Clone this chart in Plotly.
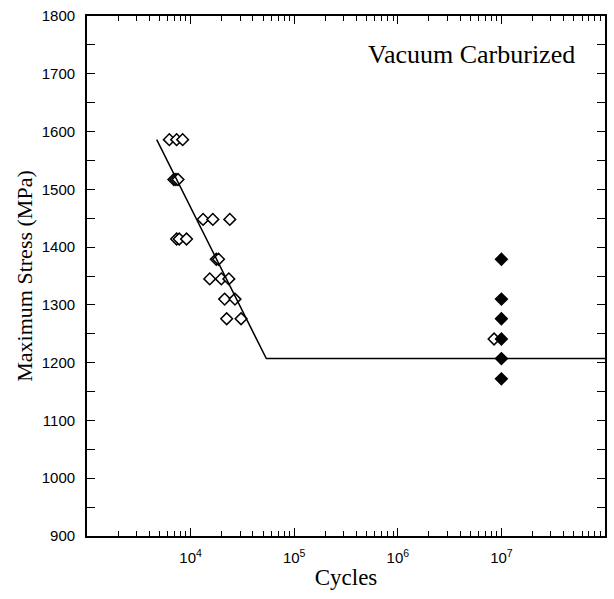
import plotly.graph_objects as go

# ---- data ----
open_cycles = [6230, 7330, 8380, 6900, 7220, 7560, 13200, 16400, 23900,
               7330, 7770, 9140, 17700, 18600, 15300, 19800, 23400,
               21300, 26800, 22300, 30700, 8500000]
open_stress = [1586, 1586, 1586, 1517, 1517, 1517, 1448, 1448, 1448,
               1414, 1414, 1414, 1379, 1379, 1345, 1345, 1345,
               1310, 1310, 1276, 1276, 1241]
runout_cycles = [1e7, 1e7, 1e7, 1e7, 1e7, 1e7]
runout_stress = [1379, 1310, 1276, 1241, 1207, 1172]
fit_cycles = [4710, 53800, 1e8]
fit_stress = [1586, 1207, 1207]

x_tickvals = [1e4, 1e5, 1e6, 1e7]
x_ticktext = ["10<sup>4</sup>", "10<sup>5</sup>", "10<sup>6</sup>", "10<sup>7</sup>"]
y_tickvals = [900, 1000, 1100, 1200, 1300, 1400, 1500, 1600, 1700, 1800]

serif = "Liberation Serif, Times New Roman, serif"
sans = "Liberation Sans, Arial, sans-serif"

fig = go.Figure()
fig.add_trace(go.Scatter(
    x=open_cycles, y=open_stress, mode="markers",
    marker=dict(symbol="diamond", size=9, color="white",
                line=dict(color="black", width=1.5)),
    showlegend=False))
fig.add_trace(go.Scatter(
    x=fit_cycles, y=fit_stress, mode="lines",
    line=dict(color="black", width=1.5), showlegend=False))
fig.add_trace(go.Scatter(
    x=runout_cycles, y=runout_stress, mode="markers",
    marker=dict(symbol="diamond", size=9, color="black",
                line=dict(color="black", width=1.5)),
    showlegend=False))

fig.add_annotation(
    text="Vacuum Carburized", xref="paper", yref="paper",
    x=0.945, y=0.926, xanchor="right", yanchor="middle",
    showarrow=False, font=dict(family=serif, size=26, color="black"))

fig.update_layout(
    width=614, height=599,
    margin=dict(l=87, r=7, t=15, b=63),
    plot_bgcolor="white", paper_bgcolor="white",
    font=dict(family=sans, color="black"),
)
fig.update_xaxes(
    type="log", range=[3, 8],
    tickvals=x_tickvals, ticktext=x_ticktext,
    ticks="inside", ticklen=8, tickwidth=1.2, tickcolor="black",
    minor=dict(ticks="inside", ticklen=5, tickwidth=1.2, tickcolor="black", dtick="D1"),
    showline=True, linecolor="black", linewidth=1.8, mirror="ticks",
    showgrid=False, zeroline=False,
    tickfont=dict(family=sans, size=15),
    ticklabelstandoff=7,
    title=dict(text="Cycles", font=dict(family=serif, size=23), standoff=4),
)
fig.update_yaxes(
    range=[900, 1800], tickvals=y_tickvals,
    ticks="inside", ticklen=8, tickwidth=1.2, tickcolor="black",
    minor=dict(ticks="inside", ticklen=8, tickwidth=1.2, tickcolor="black", dtick=50),
    showline=True, linecolor="black", linewidth=1.8, mirror="ticks",
    showgrid=False, zeroline=False,
    tickfont=dict(family=sans, size=15),
    ticklabelstandoff=7,
    title=dict(text="Maximum Stress (MPa)", font=dict(family=serif, size=22), standoff=3),
)

fig.write_html("out.html")
